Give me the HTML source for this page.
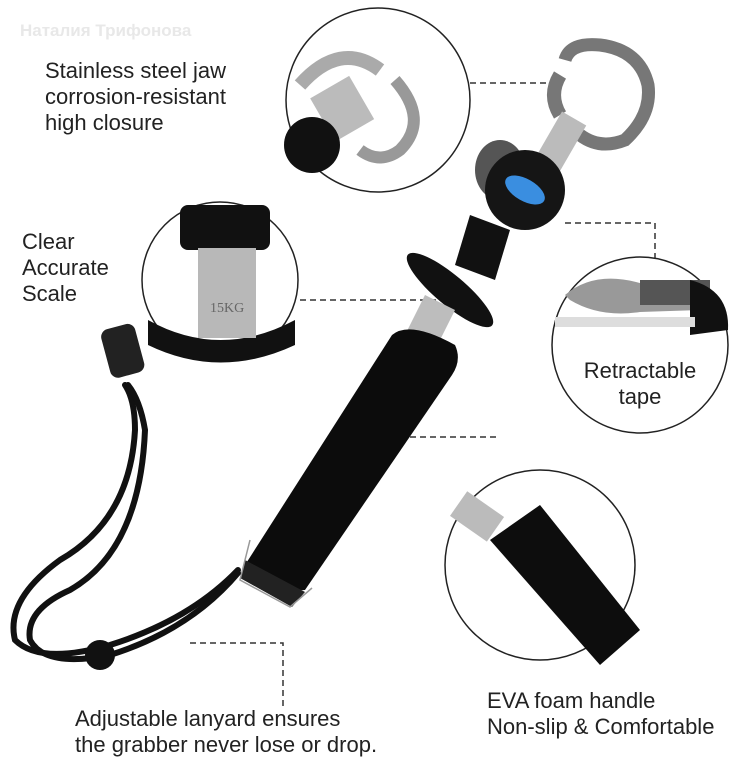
<!DOCTYPE html>
<html><head><meta charset="utf-8"><style>
body{margin:0;background:#fff;width:745px;height:768px;overflow:hidden;position:relative;font-family:"Liberation Sans",sans-serif;}
.t{position:absolute;color:#222;font-size:22px;line-height:26px;}
</style></head><body>
<svg width="745" height="768" style="position:absolute;left:0;top:0">
<g fill="none" stroke="#333" stroke-width="1.5" stroke-dasharray="6,4">
<path d="M460 83 H557"/>
<path d="M565 223 H655 V262"/>
<path d="M300 300 H450"/>
<path d="M410 437 H500"/>
<path d="M190 643 H283 V710"/>
</g>
<!-- top circle -->
<circle cx="378" cy="100" r="92" fill="#fff" stroke="#222" stroke-width="1.5"/>
<path d="M300 85 Q340 40 380 70" stroke="#aaa" stroke-width="14" fill="none"/>
<path d="M395 80 Q430 120 400 150 Q380 165 360 150" stroke="#999" stroke-width="12" fill="none"/>
<rect x="320" y="85" width="45" height="50" fill="#bbb" transform="rotate(-30 340 110)"/>
<circle cx="312" cy="145" r="28" fill="#111"/>
<!-- left circle -->
<circle cx="220" cy="280" r="78" fill="#fff" stroke="#222" stroke-width="1.5"/>
<path d="M148 320 Q220 360 295 320 L295 345 Q220 380 148 345Z" fill="#111"/>
<rect x="180" y="205" width="90" height="45" rx="8" fill="#111"/>
<rect x="198" y="248" width="58" height="90" fill="#b8b8b8"/>
<text x="210" y="312" font-family="Liberation Serif" font-size="14" fill="#666">15KG</text>
<!-- right circle -->
<circle cx="640" cy="345" r="88" fill="#fff" stroke="#222" stroke-width="1.5"/>
<path d="M565 295 Q600 265 660 290 L700 290 L700 310 L640 312 Q600 318 570 300Z" fill="#999"/>
<rect x="640" y="280" width="70" height="25" fill="#555"/>
<path d="M690 280 Q730 290 728 330 L690 335Z" fill="#111"/>
<rect x="555" y="317" width="140" height="10" fill="#ddd"/>
<!-- bottom right circle -->
<circle cx="540" cy="565" r="95" fill="#fff" stroke="#222" stroke-width="1.5"/>
<path d="M490 540 L540 505 L640 630 L600 665 Z" fill="#0d0d0d"/>
<rect x="455" y="500" width="45" height="30" fill="#bbb" transform="rotate(35 475 515)"/>
<!-- grabber jaw -->
<path d="M565 60 Q570 42 600 45 Q640 50 648 85 Q652 115 625 140 Q600 150 580 135" stroke="#777" stroke-width="13" fill="none"/>
<path d="M560 75 Q548 95 560 115" stroke="#777" stroke-width="14" fill="none"/>
<rect x="545" y="115" width="28" height="60" fill="#bbb" transform="rotate(30 560 145)"/>
<ellipse cx="500" cy="170" rx="25" ry="30" fill="#555"/>
<circle cx="525" cy="190" r="40" fill="#151515"/>
<ellipse cx="525" cy="190" rx="22" ry="11" fill="#3a8ee0" transform="rotate(30 525 190)"/>
<path d="M470 215 L510 230 L495 280 L455 265Z" fill="#111"/>
<ellipse cx="450" cy="290" rx="55" ry="15" fill="#111" transform="rotate(40 450 290)"/>
<path d="M425 295 L455 310 L435 350 L405 335Z" fill="#bdbdbd"/>
<!-- foam handle -->
<path d="M392 335 Q410 320 455 345 Q462 360 452 375 L305 590 Q275 592 245 565 Z" fill="#0c0c0c"/>
<path d="M245 560 L305 592 L292 607 L240 578Z" fill="#222"/>
<path d="M250 540 L240 580 L290 607 L312 588" fill="none" stroke="#999" stroke-width="1.5"/>
<!-- lanyard -->
<g fill="none" stroke="#111" stroke-width="6" stroke-linecap="round">
<path d="M238 570 Q190 620 110 645 Q40 665 15 640 Q5 600 60 560 Q130 520 135 430 Q135 400 125 385"/>
<path d="M238 573 Q190 630 110 655 Q45 668 30 640 Q25 610 70 590 Q140 550 145 430 Q140 400 128 385"/>
</g>
<circle cx="100" cy="655" r="15" fill="#111"/>
<rect x="105" y="326" width="35" height="50" rx="8" fill="#222" transform="rotate(-15 122 350)"/>
</svg>
<div class="t" style="left:20px;top:18px;color:#e8e8e8;font-size:17px;font-weight:bold">Наталия Трифонова</div>
<div class="t" style="left:45px;top:58px">Stainless steel jaw<br>corrosion-resistant<br>high closure</div>
<div class="t" style="left:22px;top:229px">Clear<br>Accurate<br>Scale</div>
<div class="t" style="left:570px;top:358px;text-align:center;width:140px">Retractable<br>tape</div>
<div class="t" style="left:487px;top:688px">EVA foam handle<br>Non-slip &amp; Comfortable</div>
<div class="t" style="left:75px;top:706px">Adjustable lanyard ensures<br>the grabber never lose or drop.</div>
</body></html>
